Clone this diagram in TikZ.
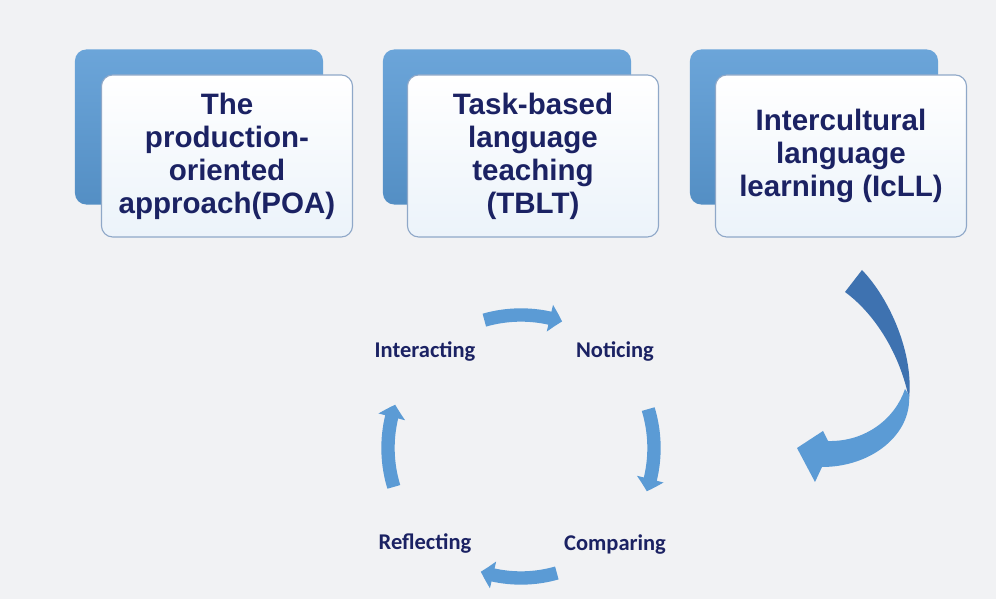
\documentclass[tikz,border=0pt]{standalone}
\usepackage{fontspec}
\setmainfont{Liberation Sans}
\newfontfamily\cyclefont{Carlito}
\usepackage{xcolor}
\usepackage{tikz}
\usetikzlibrary{arrows.meta}
\usetikzlibrary{bending}
\definecolor{bgcol}{HTML}{F1F2F4}
\definecolor{navy}{HTML}{1B2263}
\definecolor{boxblue}{HTML}{5B9BD5}
\definecolor{deepblue}{HTML}{3E72B0}
\definecolor{edgeblue}{HTML}{8FA8C8}

\begin{document}
\begin{tikzpicture}[x=0.025cm,y=0.025cm,
    backbox/.style={rounded corners=8pt,minimum width=6.2cm,minimum height=3.875cm,
      top color=boxblue!90!white,bottom color=boxblue!92!black,inner sep=0pt},
    frontbox/.style={draw=edgeblue,line width=0.8pt,rounded corners=8pt,
      minimum width=6.275cm,minimum height=4.05cm,top color=white,
      bottom color=boxblue!12!white,align=center,text=navy,inner sep=0pt,
      font=\bfseries\fontsize{21}{23.5}\selectfont},
    stagelabel/.style={text=navy,font=\cyclefont\bfseries\fontsize{16}{18}\selectfont},
    cyclearrow/.style={boxblue,line width=9.5pt,-{Triangle[width=19pt,length=9pt,bend]}}]
    \fill[bgcol] (0,0) rectangle (996,599);
    % three approaches
    \node[backbox] (poaback) at (199,472) {};
    \node[backbox] (tbltback) at (507,472) {};
    \node[backbox] (icllback) at (814,472) {};
    \node[frontbox] (poa) at (227,443) {The\\production-\\oriented\\approach(POA)};
    \node[frontbox] (tblt) at (533,443) {Task-based\\language\\teaching\\(TBLT)};
    \node[frontbox] (icll) at (841,443) {Intercultural\\language\\learning (IcLL)};
    % big curved arrow
    \fill[deepblue] (845,307) -- (862,329)
      .. controls (890,300) and (914,245) .. (909,200)
      .. controls (900,245) and (875,285) .. (845,307) -- cycle;
    \fill[boxblue] (909,204)
      .. controls (912,165) and (872,132) .. (822,132)
      -- (815,117) -- (797,151) -- (823,168) -- (828,158)
      .. controls (865,157) and (895,180) .. (905,210) -- cycle;
    % cycle
    \coordinate (hub) at (521,151);
    \node[stagelabel] (interacting) at (425,247) {Interacting};
    \node[stagelabel] (noticing) at (615,247) {Noticing};
    \node[stagelabel] (comparing) at (615,54) {Comparing};
    \node[stagelabel] (reflecting) at (425,56) {Reflecting};
    \draw[cyclearrow] (hub) ++(106:133) arc[start angle=106,end angle=72,radius=133];
    \draw[cyclearrow] (hub) ++(17:133) arc[start angle=17,end angle=-19,radius=133];
    \draw[cyclearrow] (hub) ++(-74:130) arc[start angle=-74,end angle=-108,radius=130];
    \draw[cyclearrow] (hub) ++(197:133) arc[start angle=197,end angle=161,radius=133];
\end{tikzpicture}
\end{document}
